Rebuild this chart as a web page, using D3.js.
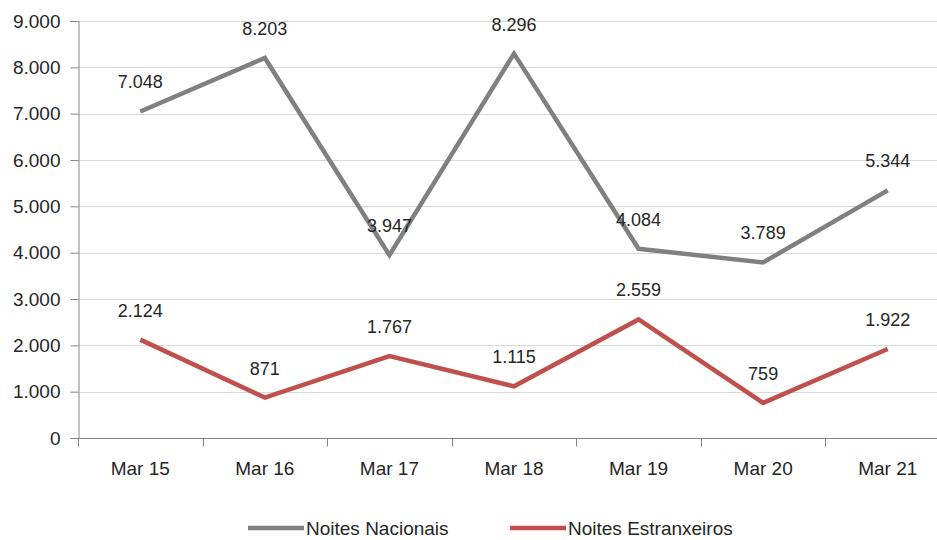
<!DOCTYPE html>
<html>
<head>
<meta charset="utf-8">
<script src="https://cdn.jsdelivr.net/npm/d3@7"></script>
<style>
	body { margin: 0; background: #fff; }
	text { font-family: "Liberation Sans", Arial, sans-serif; fill: #262626; }
	.axis text { font-size: 19px; }
	.label { font-size: 18px; }
	.legend text { font-size: 19px; }
</style>
</head>
<body>
<div id="vis"></div>
<script>
var categories = ["Mar 15", "Mar 16", "Mar 17", "Mar 18", "Mar 19", "Mar 20", "Mar 21"];
var nacionais = [7048, 8203, 3947, 8296, 4084, 3789, 5344];
var estrangeiros = [2124, 871, 1767, 1115, 2559, 759, 1922];
var seriesNames = ["Noites Nacionais", "Noites Estranxeiros"];
var yTicks = [0, 1000, 2000, 3000, 4000, 5000, 6000, 7000, 8000, 9000];

var width = 937;
var height = 540;

var margin = {
	left: 78,
	top: 21,
	bottom: 102
};

// the plot runs a bit past the right edge, as in the original
var plotRight = 950;
var drawHeight = height - margin.top - margin.bottom;

var ptFormat = d3.formatLocale({ decimal: ",", thousands: ".", grouping: [3], currency: ["", "€"] }).format(",d");

var svg = d3.select("#vis")
	.append("svg")
	.attr("width", width)
	.attr("height", height);

var xScale = d3.scaleBand()
	.domain(categories)
	.range([margin.left, plotRight]);

var yScale = d3.scaleLinear()
	.domain([0, 9000])
	.range([margin.top + drawHeight, margin.top]);

// gridlines
svg.append("g")
	.selectAll("line")
	.data(yTicks.slice(1))
	.enter().append("line")
	.attr("x1", margin.left)
	.attr("x2", width)
	.attr("y1", function(d) { return Math.round(yScale(d)) + 0.5; })
	.attr("y2", function(d) { return Math.round(yScale(d)) + 0.5; })
	.attr("stroke", "#d9d9d9")
	.attr("stroke-width", 1);

// y axis
var yAxis = d3.axisLeft(yScale)
	.tickValues(yTicks)
	.tickFormat(ptFormat)
	.tickSize(8)
	.tickPadding(10);

var yAxisG = svg.append("g")
	.attr("class", "axis")
	.attr("transform", "translate(" + (margin.left + 0.5) + ",0)")
	.call(yAxis);

yAxisG.select(".domain").attr("stroke", "#868686");
yAxisG.selectAll(".tick line").attr("stroke", "#868686");

// x axis, ticks between the categories
var xAxisG = svg.append("g")
	.attr("class", "axis")
	.attr("transform", "translate(0," + (Math.round(yScale(0)) + 0.5) + ")");

xAxisG.append("line")
	.attr("x1", margin.left)
	.attr("x2", width)
	.attr("stroke", "#868686");

xAxisG.selectAll(".sep")
	.data(categories)
	.enter().append("line")
	.attr("class", "sep")
	.attr("x1", function(d) { return Math.round(xScale(d)) + 0.5; })
	.attr("x2", function(d) { return Math.round(xScale(d)) + 0.5; })
	.attr("y1", 0)
	.attr("y2", 8)
	.attr("stroke", "#868686");

xAxisG.selectAll("text")
	.data(categories)
	.enter().append("text")
	.attr("x", function(d) { return xScale(d) + xScale.bandwidth() / 2; })
	.attr("y", 36)
	.attr("text-anchor", "middle")
	.text(function(d) { return d; });

var yAxisTexts = yAxisG.selectAll("text").attr("fill", "#262626").style("font-size", "19px");

// lines
var series = [
	{ name: seriesNames[0], values: nacionais, color: "#808080" },
	{ name: seriesNames[1], values: estrangeiros, color: "#c0504d" }
];

var line = d3.line()
	.x(function(d, i) { return xScale(categories[i]) + xScale.bandwidth() / 2; })
	.y(function(d) { return yScale(d); });

series.forEach(function(s) {
	svg.append("path")
		.datum(s.values)
		.attr("fill", "none")
		.attr("stroke", s.color)
		.attr("stroke-width", 4.5)
		.attr("stroke-linejoin", "miter")
		.attr("d", line);
});

// data labels above the points
series.forEach(function(s) {
	svg.append("g")
		.selectAll("text")
		.data(s.values)
		.enter().append("text")
		.attr("class", "label")
		.attr("x", function(d, i) { return xScale(categories[i]) + xScale.bandwidth() / 2; })
		.attr("y", function(d) { return yScale(d) - 23; })
		.attr("text-anchor", "middle")
		.text(function(d) { return ptFormat(d); });
});

// legend
var legendItems = [
	{ name: series[0].name, color: series[0].color, x: 248 },
	{ name: series[1].name, color: series[1].color, x: 510 }
];

var legend = svg.append("g").attr("class", "legend");

legendItems.forEach(function(item) {
	legend.append("line")
		.attr("x1", item.x)
		.attr("x2", item.x + 56)
		.attr("y1", 528)
		.attr("y2", 528)
		.attr("stroke", item.color)
		.attr("stroke-width", 4.5);
	legend.append("text")
		.attr("x", item.x + 58)
		.attr("y", 535)
		.text(item.name);
});
</script>
</body>
</html>
